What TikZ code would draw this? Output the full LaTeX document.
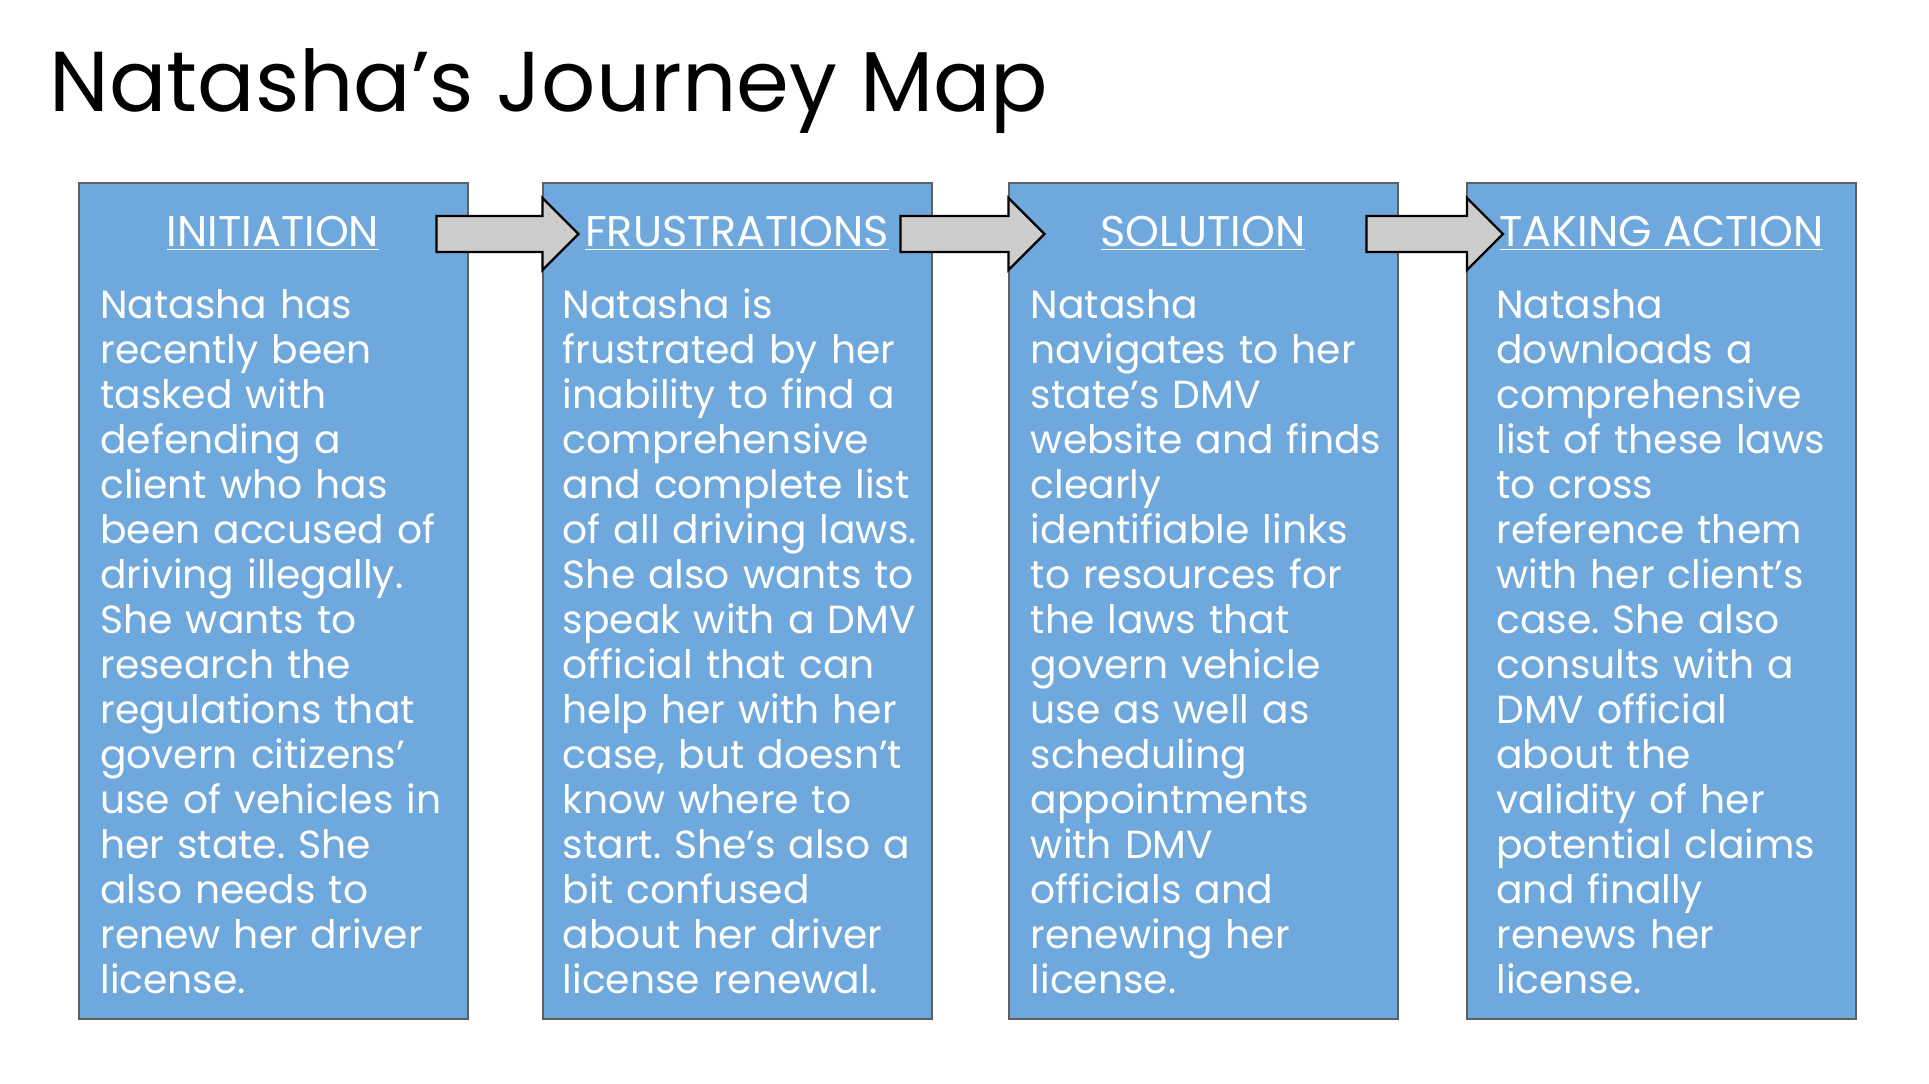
\documentclass[tikz,border=0pt]{standalone}
\usepackage{fontspec}
\setmainfont{Poppins}
\usepackage{xcolor}
\usetikzlibrary{calc,positioning}
\frenchspacing

\definecolor{stageblue}{HTML}{6FA8DC}
\definecolor{stageedge}{HTML}{5F5F5F}
\definecolor{arrowgrey}{HTML}{CCCCCC}

\begin{document}
\begin{tikzpicture}[
  x=0.5pt, y=-0.5pt,
  stagebox/.style={rectangle, draw=stageedge, line width=1pt, fill=stageblue,
    minimum width=194.5pt, minimum height=418pt, anchor=north west, inner sep=0pt},
  stagetitle/.style={anchor=base, inner sep=0pt, text=white,
    font=\fontsize{21.5}{22.5}\selectfont},
  stagetext/.style={anchor=north west, inner sep=0pt, text=white, align=left,
    text width=185pt, font=\fontsize{19.6}{22.5}\selectfont},
  blockarrow/.style={draw=black, line width=1.2pt, fill=arrowgrey, line join=miter}
]
  \useasboundingbox[fill=white] (0,0) rectangle (1929,1083);

  % heading
  \node[anchor=base west, inner sep=0pt, font=\fontsize{42.5}{50}\selectfont] (heading)
    at (49,111) {Natasha’s Journey Map};

  % the four stages
  \node[stagebox] (init) at (77.5,182) {};
  \node[stagebox] (frust) at (541.5,182) {};
  \node[stagebox] (solut) at (1007.5,182) {};
  \node[stagebox] (action) at (1466,182) {};

  % arrows between the stages
  \foreach \a/\b in {init/frust, frust/solut, solut/action}
    \draw[blockarrow] ($(\a.north east)+(-32,34)$) coordinate (tail-\a)
      -- ($(\b.north west)+(1,34)$) -- ($(\b.north west)+(1,16)$)
      -- ($(\b.north west)+(37,52)$) coordinate (tip-\b)
      -- ($(\b.north west)+(1,88)$) -- ($(\b.north west)+(1,70)$)
      -- ($(tail-\a)+(0,36)$) -- cycle;

  \node[stagetitle] (init-t) at ($(init.north)+(0,64.7)$) {\underline{INITIATION}};
  \node[stagetitle] (frust-t) at ($(frust.north)+(0,64.7)$) {\underline{FRUSTRATIONS}};
  \node[stagetitle] (solut-t) at ($(solut.north)+(0,64.7)$) {\underline{SOLUTION}};
  \node[stagetitle] (action-t) at ($(action.north)+(0,64.7)$) {\underline{TAKING ACTION}};

  \node[stagetext] (init-b) at ($(init.north west)+(22.5,104.5)$) {\strut Natasha has\\
    recently been\\ tasked with\\ defending a\\ client who has\\ been accused of\\
    driving illegally.\\ She wants to\\ research the\\ regulations that\\
    govern citizens’\\ use of vehicles in\\ her state. She\\ also needs to\\
    renew her driver\\ license.};
  \node[stagetext] (frust-b) at ($(frust.north west)+(21,104.5)$) {\strut Natasha is\\
    frustrated by her\\ inability to find a\\ comprehensive\\ and complete list\\
    of all driving laws.\\ She also wants to\\ speak with a DMV\\ official that can\\
    help her with her\\ case, but doesn’t\\ know where to\\ start. She’s also a\\
    bit confused\\ about her driver\\ license renewal.};
  \node[stagetext] (solut-b) at ($(solut.north west)+(23,104.5)$) {\strut Natasha\\
    navigates to her\\ state’s DMV\\ website and finds\\ clearly\\
    identifiable links\\ to resources for\\ the laws that\\ govern vehicle\\
    use as well as\\ scheduling\\ appointments\\ with DMV\\ officials and\\
    renewing her\\ license.};
  \node[stagetext] (action-b) at ($(action.north west)+(30,104.5)$) {\strut Natasha\\
    downloads a\\ comprehensive\\ list of these laws\\ to cross\\
    reference them\\ with her client’s\\ case. She also\\ consults with a\\
    DMV official\\ about the\\ validity of her\\ potential claims\\ and finally\\
    renews her\\ license.};
\end{tikzpicture}
\end{document}
